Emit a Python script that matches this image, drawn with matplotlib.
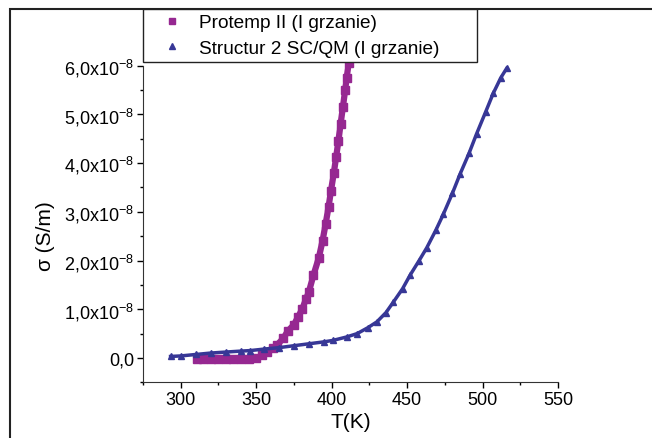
import numpy as np
import matplotlib
matplotlib.use('Agg')
import matplotlib.pyplot as plt
from matplotlib.patches import Rectangle
from matplotlib.ticker import MultipleLocator, FuncFormatter

plt.rcParams['font.family'] = ['Liberation Sans', 'DejaVu Sans']
plt.rcParams['mathtext.fontset'] = 'custom'
plt.rcParams['mathtext.rm'] = 'Liberation Sans'
plt.rcParams['mathtext.it'] = 'Liberation Sans'

# conductivity in units of 1e-8 S/m
t_protemp = [311, 315, 320, 325, 330, 335, 340, 345, 350, 354, 357, 361, 364,
             368, 371, 375, 378, 380.5, 383, 385, 388, 391.5, 394, 396, 398,
             399.6, 401.5, 403, 404.5, 406, 407.5, 409, 410, 411.3]
s_protemp = [-0.02, -0.02, -0.02, -0.02, -0.02, -0.02, -0.02, -0.02, -0.01,
             0.05, 0.12, 0.2, 0.27, 0.4, 0.55, 0.68, 0.85, 1.0, 1.2, 1.36,
             1.7, 2.05, 2.4, 2.74, 3.1, 3.43, 3.8, 4.12, 4.45, 4.81, 5.15,
             5.5, 5.75, 6.05]

t_struct = [293.4, 300, 310, 320, 330, 340, 346, 355, 365, 375, 385, 395,
            401, 410, 417, 424, 430, 436, 441, 447, 452, 458, 463, 469, 474,
            480, 485, 491, 496, 502, 507, 512, 516]
s_struct = [0.03, 0.04, 0.07, 0.1, 0.12, 0.14, 0.15, 0.18, 0.21, 0.25, 0.29,
            0.33, 0.36, 0.43, 0.5, 0.62, 0.74, 0.93, 1.15, 1.42, 1.7, 2.0,
            2.26, 2.62, 2.95, 3.38, 3.77, 4.2, 4.6, 5.05, 5.43, 5.75, 5.95]

label_protemp = 'Protemp II (I grzanie)'
label_struct = 'Structur 2 SC/QM (I grzanie)'

c_protemp = '#962891'
c_struct = '#373796'

fig = plt.figure(figsize=(6.52, 4.39), dpi=100)
ax = fig.add_axes([0.219, 0.127, 0.637, 0.721])

# outer frame (cut off at right and bottom)
fig.patches.append(Rectangle((10 / 652, -0.1), 1.2, 1.1 - 10 / 439,
                             transform=fig.transFigure, fill=False,
                             edgecolor='#222222', linewidth=1.5))

ax.plot(t_protemp, s_protemp, color=c_protemp, lw=4.5, solid_capstyle='butt',
        marker='s', ms=6, mec=c_protemp, clip_on=False, label=label_protemp)
ax.plot(t_struct, s_struct, color=c_struct, lw=2.5, marker='^', ms=5,
        mec=c_struct, clip_on=False, label=label_struct)

ax.set_xlim(275, 550)
ax.set_ylim(-0.5, 6.0)
ax.xaxis.set_minor_locator(MultipleLocator(25))
ax.yaxis.set_major_locator(MultipleLocator(1))
ax.yaxis.set_minor_locator(MultipleLocator(0.5))
ax.set_xticks([300, 350, 400, 450, 500, 550])


def fmt_y(v, pos):
    if abs(v) < 1e-9:
        return '0,0'
    return ('%.1f' % v).replace('.', ',') + r'x10$^{-8}$'


ax.yaxis.set_major_formatter(FuncFormatter(fmt_y))
ax.tick_params(axis='both', which='major', direction='out', length=4,
               width=1, labelsize=13, pad=2)
ax.tick_params(axis='both', which='minor', direction='out', length=2.5,
               width=1)
for s in ['top', 'right']:
    ax.spines[s].set_visible(False)
for s in ['left', 'bottom']:
    ax.spines[s].set_color('#333333')

ax.set_xlabel('T(K)', fontsize=15, labelpad=3)
ax.set_ylabel('σ (S/m)', fontsize=15)
ax.yaxis.set_label_coords(-0.211, 0.465)

leg = fig.legend(loc='upper left',
                 bbox_to_anchor=(0.219, 0.2, 0.513, 0.777), mode='expand',
                 borderaxespad=0, fontsize=13.7, frameon=True, fancybox=False,
                 framealpha=1, edgecolor='#222222', handlelength=2.6,
                 borderpad=0.25, labelspacing=0.45, handletextpad=0.1,
                 markerscale=0.8)
leg.get_frame().set_linewidth(1)
for h in leg.legend_handles:
    h.set_linestyle('none')

fig.savefig('out.png', dpi=100)
